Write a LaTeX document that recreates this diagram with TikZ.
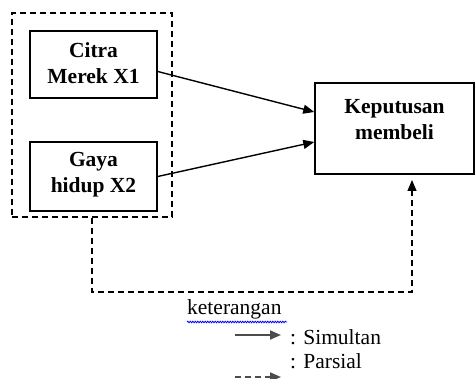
\documentclass[tikz,border=0pt]{standalone}
\usepackage{fontspec}
\setmainfont{Liberation Serif}
\usetikzlibrary{arrows.meta,decorations.pathmorphing}
\begin{document}
\begin{tikzpicture}[x=1pt,y=-1pt,
  box/.style={draw,line width=1.5pt,minimum width=127pt,inner sep=0pt},
  boxtxt/.style={inner sep=0pt,align=center,font=\fontsize{21.5}{26}\selectfont\bfseries},
  grpbox/.style={draw,line width=1.3pt,dash pattern=on 6pt off 4pt,inner sep=0pt},
  conn/.style={line width=1.4pt,-{Triangle[length=11pt,width=9pt]}},
  dconn/.style={line width=1.3pt,dash pattern=on 6pt off 4pt,-{Triangle[length=11pt,width=9pt]}},
  lbl/.style={inner sep=0pt,font=\fontsize{21.5}{24}\selectfont}]
\useasboundingbox (0,0) rectangle (476,379);
\node[grpbox,minimum width=160pt,minimum height=204pt] (grp) at (92,115) {};
\node[box,minimum height=67pt] (c1) at (93.5,64.5) {};
\node[boxtxt] (c1t) at (93.5,63) {Citra\\Merek X1};
\node[box,minimum height=69pt] (c2) at (93.5,176.5) {};
\node[boxtxt] (c2t) at (93.5,175) {Gaya\\hidup X2};
\node[box,minimum width=159pt,minimum height=91pt] (kp) at (394.5,128.5) {};
\node[boxtxt] (kpt) at (394.5,120) {Keputusan\\membeli};
\draw[conn] ([yshift=-7pt]c1.east) -- ([yshift=16.5pt]kp.west);
\draw[conn] (c2.east) -- ([yshift=-13.5pt]kp.west);
\coordinate (bot) at (0,292);
\coordinate (kb) at (412,174);
\draw[dconn,shorten >=6pt] (grp.south) -- (grp.south |- bot) -| (kb);
\node[lbl,anchor=west] (ket) at (187,309) {keterangan};
\draw[blue,line width=0.8pt,decorate,decoration={snake,amplitude=0.8pt,segment length=2.5pt}] (ket.south west) ++(0,3) -- ++(100,0);
\coordinate (s1) at (235,335);
\coordinate (s2) at (281,335);
\draw[conn,line width=1.8pt,draw=black!70] (s1) -- (s2);
\node[lbl,anchor=west] (sim) at (290,337) {: Simultan};
\node[lbl,anchor=west] (par) at (290,361) {: Parsial};
\coordinate (p1) at (235,377);
\coordinate (p2) at (281,377);
\draw[dconn,line width=1.8pt,draw=black!70] (p1) -- (p2);
\end{tikzpicture}
\end{document}
